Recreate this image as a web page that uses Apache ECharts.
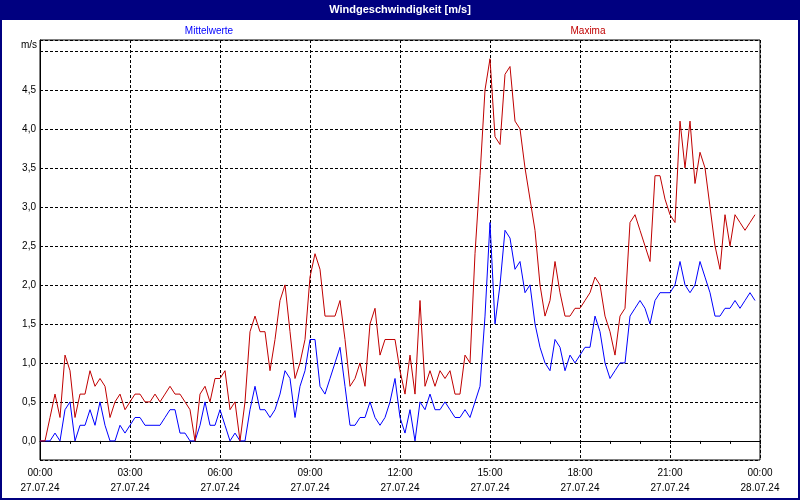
<!DOCTYPE html>
<html><head><meta charset="utf-8">
<script src="https://cdn.jsdelivr.net/npm/echarts@6/dist/echarts.min.js"></script>
<style>html,body{margin:0;padding:0;background:#fff}#c{width:800px;height:500px}</style>
</head><body><div id="c"></div>
<script>
const chartTitle = 'Windgeschwindigkeit [m/s]';
const seriesNames = ['Mittelwerte', 'Maxima'];
const unitLabel = 'm/s';
const tickLabels = ['00:00\n27.07.24','03:00\n27.07.24','06:00\n27.07.24','09:00\n27.07.24','12:00\n27.07.24','15:00\n27.07.24','18:00\n27.07.24','21:00\n27.07.24','00:00\n28.07.24'];

// 10-minute values, 00:00 .. 23:50
const mittelwerte = [
  0,0,0,0.1,0,0.4,0.5,0,0.2,0.2,0.4,0.2,0.5,0.2,0,0,0.2,0.1,0.2,0.3,0.3,0.2,0.2,0.2,
  0.2,0.3,0.4,0.4,0.1,0.1,0,0,0.2,0.5,0.2,0.2,0.4,0.2,0,0.1,0,0,0.4,0.7,0.4,0.4,0.3,0.4,
  0.6,0.9,0.8,0.3,0.7,0.9,1.3,1.3,0.7,0.6,0.8,1.0,1.2,0.7,0.2,0.2,0.3,0.3,0.5,0.3,0.2,0.3,0.5,0.8,
  0.3,0.1,0.4,0,0.5,0.4,0.6,0.4,0.4,0.5,0.4,0.3,0.3,0.4,0.3,0.5,0.7,1.6,2.8,1.5,2.0,2.7,2.6,2.2,
  2.3,1.9,2.0,1.5,1.2,1.0,0.9,1.3,1.2,0.9,1.1,1.0,1.1,1.2,1.2,1.6,1.4,1.0,0.8,0.9,1.0,1.0,1.6,1.7,
  1.8,1.7,1.5,1.8,1.9,1.9,1.9,2.0,2.3,2.0,1.9,2.0,2.3,2.1,1.9,1.6,1.6,1.7,1.7,1.8,1.7,1.8,1.9,1.8
];
const maxima = [
  0,0,0.3,0.6,0.3,1.1,0.9,0.3,0.6,0.6,0.9,0.7,0.8,0.7,0.3,0.5,0.6,0.4,0.5,0.6,0.6,0.5,0.5,0.6,
  0.5,0.6,0.7,0.6,0.6,0.5,0.4,0,0.6,0.7,0.5,0.8,0.8,0.9,0.4,0.5,0,0.5,1.4,1.6,1.4,1.4,0.9,1.3,
  1.8,2.0,1.4,0.8,1.0,1.3,2.1,2.4,2.2,1.6,1.6,1.6,1.8,1.3,0.7,0.8,1.0,0.7,1.5,1.7,1.1,1.3,1.3,1.3,
  0.9,0.6,1.1,0.6,1.8,0.7,0.9,0.7,0.9,0.8,0.9,0.6,0.6,1.1,1.0,2.4,3.4,4.5,4.9,3.9,3.8,4.7,4.8,4.1,
  4.0,3.5,3.1,2.7,2.0,1.6,1.8,2.3,1.9,1.6,1.6,1.7,1.7,1.8,1.9,2.1,2.0,1.6,1.4,1.1,1.6,1.7,2.8,2.9,
  2.7,2.5,2.3,3.4,3.4,3.1,2.9,2.8,4.1,3.5,4.1,3.3,3.7,3.5,3.0,2.5,2.2,2.9,2.5,2.9,2.8,2.7,2.8,2.9
];

const pad = n => String(n).padStart(2, '0');
const categories = [];
for (let i = 0; i <= 144; i++) {
  const m = i * 10;
  categories.push(pad(Math.floor(m / 60) % 24) + ':' + pad(m % 60));
}

const FONT = 'Liberation Sans';
const chart = echarts.init(document.getElementById('c'), null, {renderer: 'canvas'});
chart.setOption({
  animation: false,
  backgroundColor: '#ffffff',
  grid: {left: 40, right: 40, top: 40, bottom: 40, show: true, borderColor: '#000', borderWidth: 1, backgroundColor: 'transparent'},
  xAxis: {
    type: 'category', boundaryGap: false, data: categories,
    axisLine: {show: true, lineStyle: {color: '#000', width: 1}},
    axisTick: {show: true, interval: 5, length: 3, lineStyle: {color: '#000'}},
    axisLabel: {interval: 17, color: '#000', fontFamily: FONT, fontSize: 10, lineHeight: 15, margin: 6,
      formatter: (v, i) => tickLabels[i / 18] || ''},
    splitLine: {show: true, interval: 17, lineStyle: {color: '#000', width: 1, type: [3, 2]}}
  },
  yAxis: {
    type: 'value', min: -0.245, max: 5.14, splitNumber: 10,
    axisLine: {show: true, lineStyle: {color: '#000', width: 1}},
    axisTick: {show: false},
    axisLabel: {color: '#000', fontFamily: FONT, fontSize: 10, margin: 4,
      formatter: v => {
        const k = Math.round(v * 2);
        if (Math.abs(v * 2 - k) > 1e-6 || k < 0 || k > 9) return '';
        return (k / 2).toFixed(1).replace('.', ',');
      }},
    splitLine: {show: true, lineStyle: {color: '#000', width: 1, type: [3, 2]}}
  },
  series: [
    {name: seriesNames[0], type: 'line', data: mittelwerte, showSymbol: false, symbol: 'none',
      lineStyle: {color: '#0000ff', width: 1}, itemStyle: {color: '#0000ff'}},
    {name: seriesNames[1], type: 'line', data: maxima, showSymbol: false, symbol: 'none',
      lineStyle: {color: '#c00000', width: 1}, itemStyle: {color: '#c00000'}}
  ],
  graphic: [
    {type: 'rect', shape: {x: 0, y: 0, width: 800, height: 20}, style: {fill: '#000080'}, silent: true},
    {type: 'rect', shape: {x: 1, y: 1, width: 798, height: 498}, style: {fill: 'none', stroke: '#000080', lineWidth: 2}, silent: true},
    {type: 'text', x: 400, y: 10, style: {text: chartTitle, fill: '#fff', font: 'bold 11px ' + FONT, align: 'center', verticalAlign: 'middle'}, silent: true},
    {type: 'text', x: 209, y: 31, style: {text: seriesNames[0], fill: '#0000ff', font: '10px ' + FONT, align: 'center', verticalAlign: 'middle'}, silent: true},
    {type: 'text', x: 588, y: 31, style: {text: seriesNames[1], fill: '#c00000', font: '10px ' + FONT, align: 'center', verticalAlign: 'middle'}, silent: true},
    {type: 'text', x: 37, y: 45, style: {text: unitLabel, fill: '#000', font: '10px ' + FONT, align: 'right', verticalAlign: 'middle'}, silent: true}
  ]
});
</script></body></html>
